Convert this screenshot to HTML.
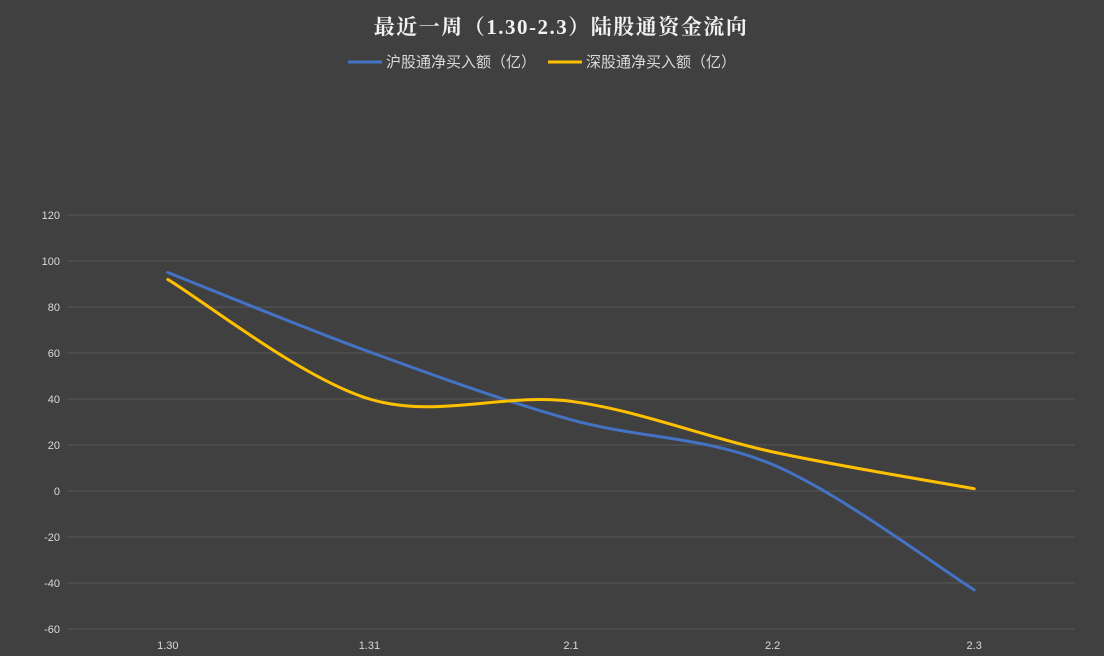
<!DOCTYPE html>
<html><head><meta charset="utf-8"><style>
body{margin:0;background:#404040;}
svg{display:block}
</style></head><body>
<svg id="chart" width="1104" height="656" xmlns="http://www.w3.org/2000/svg">
<rect width="1104" height="656" fill="#404040"/>
<text x="561" y="34" text-anchor="middle" fill="#f2f2f2" font-size="21" font-weight="bold" letter-spacing="1.5" font-family="'Liberation Serif','Noto Serif CJK SC',serif">最近一周（1.30-2.3）陆股通资金流向</text>
<g>
<g>
<line x1="348" y1="62" x2="382" y2="62" stroke="#4472c4" stroke-width="3"/>
<text x="386" y="67" fill="#d9d9d9" font-size="15" font-family="'Liberation Sans','Noto Sans CJK SC',sans-serif">沪股通净买入额（亿）</text>
</g>
<g>
<line x1="548" y1="62" x2="582" y2="62" stroke="#ffc000" stroke-width="3"/>
<text x="586" y="67" fill="#d9d9d9" font-size="15" font-family="'Liberation Sans','Noto Sans CJK SC',sans-serif">深股通净买入额（亿）</text>
</g>
</g>
<g id="grid"></g><g id="yticks"></g><g id="xticks"></g><g id="series"></g>
</svg>
<script>
const categories = ["1.30","1.31","2.1","2.2","2.3"];
const shValues = [95, 60.5, 31, 11.5, -43];
const szValues = [92, 40, 39, 17, 1];
const yTicks = [120,100,80,60,40,20,0,-20,-40,-60];
const NS="http://www.w3.org/2000/svg";
const plotL=67, plotR=1075, yTop=215, yBot=629, yMax=120, yMin=-60;
const band=(plotR-plotL)/categories.length;
const xs=i=>plotL+band*(i+0.5);
const ys=v=>yTop+(yMax-v)/(yMax-yMin)*(yBot-yTop);
const mk=(t,a,p)=>{const e=document.createElementNS(NS,t);for(const k in a)e.setAttribute(k,a[k]);p.appendChild(e);return e;};
const grid=document.getElementById('grid'), yt=document.getElementById('yticks'), xt=document.getElementById('xticks'), ser=document.getElementById('series');
yTicks.forEach(v=>{
  const l=mk('line',{x1:plotL,x2:plotR,y1:ys(v),y2:ys(v),stroke:'#595959','stroke-width':1},grid);
  
  
  const t=mk('text',{x:60,y:ys(v)+4,'text-anchor':'end',fill:'#d9d9d9','font-size':11,'font-family':'Liberation Sans, sans-serif'},yt);
  t.textContent=v;
  
  
});
categories.forEach((c,i)=>{
  const t=mk('text',{x:xs(i),y:649,'text-anchor':'middle',fill:'#d9d9d9','font-size':11,'font-family':'Liberation Sans, sans-serif'},xt);
  t.textContent=c;
  
  
});
function smooth(vals){
  const p=vals.map((v,i)=>[xs(i),ys(v)]);
  let d='M'+p[0][0]+','+p[0][1];
  for(let i=0;i<p.length-1;i++){
    const p0=p[i-1]||p[i],p1=p[i],p2=p[i+1],p3=p[i+2]||p2;
    const c1=[p1[0]+(p2[0]-p0[0])/6,p1[1]+(p2[1]-p0[1])/6];
    const c2=[p2[0]-(p3[0]-p1[0])/6,p2[1]-(p3[1]-p1[1])/6];
    d+=' C'+c1+' '+c2+' '+p2;
  }
  return d;
}
const s1=mk('path',{d:smooth(shValues),fill:'none',stroke:'#4472c4','stroke-width':3,'stroke-linecap':'round'},ser);


const s2=mk('path',{d:smooth(szValues),fill:'none',stroke:'#ffc000','stroke-width':3,'stroke-linecap':'round'},ser);


</script>
</body></html>
